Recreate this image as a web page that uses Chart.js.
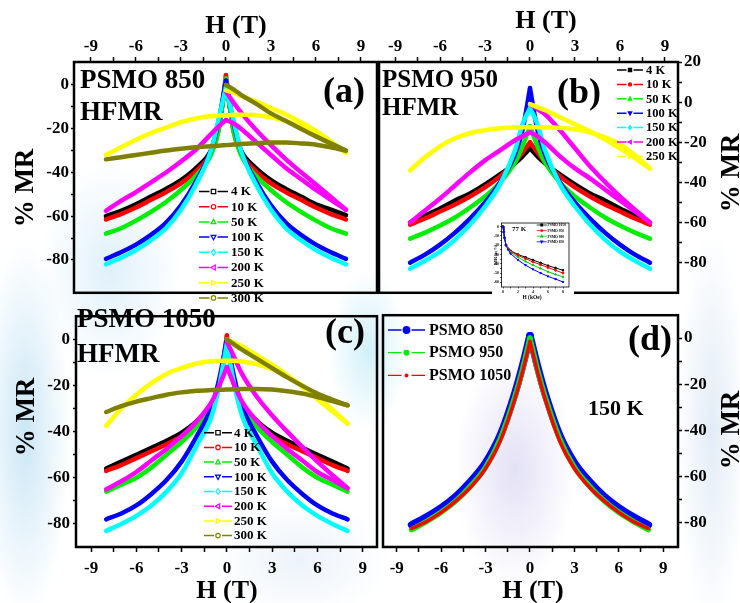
<!DOCTYPE html>
<html>
<head>
<meta charset="utf-8">
<script src="https://cdn.jsdelivr.net/npm/chart.js@4.4.0/dist/chart.umd.min.js"></script>
<style>
html, body { margin: 0; padding: 0; }
body {
  width: 740px; height: 603px; position: relative; overflow: hidden; background: #fff;
  background-image:
    radial-gradient(ellipse 45px 190px at 25px 430px, rgba(160,210,238,0.55), rgba(255,255,255,0)),
    radial-gradient(ellipse 70px 110px at 110px 270px, rgba(185,222,243,0.45), rgba(255,255,255,0)),
    radial-gradient(ellipse 60px 120px at 515px 470px, rgba(200,195,235,0.5), rgba(255,255,255,0)),
    radial-gradient(ellipse 35px 200px at 712px 430px, rgba(190,212,235,0.45), rgba(255,255,255,0)),
    radial-gradient(ellipse 40px 80px at 368px 350px, rgba(170,228,242,0.55), rgba(255,255,255,0)),
    radial-gradient(ellipse 90px 60px at 300px 560px, rgba(200,220,240,0.35), rgba(255,255,255,0));
}
canvas { position: absolute; }
</style>
</head>
<body>
<canvas id="chartA" width="380" height="305" style="left:0px;top:0px"></canvas>
<canvas id="chartB" width="364" height="305" style="left:376px;top:0px"></canvas>
<canvas id="chartC" width="380" height="300" style="left:0px;top:303px"></canvas>
<canvas id="chartD" width="364" height="300" style="left:376px;top:303px"></canvas>
<canvas id="inset" width="82" height="84" style="left:492px;top:218px"></canvas>
<script>
// field grid (T) and return-branch grid
const H  = [-8, -7, -6, -5, -4, -3, -2, -1, -0.5, 0, 0.5, 1, 2, 3, 4, 5, 6, 7, 8];
const Hr = [0, 0.5, 1, 2, 3, 4, 6, 8];

const temps = ['4 K', '10 K', '50 K', '100 K', '150 K', '200 K', '250 K', '300 K'];
const tColors = ['#000000', '#ff0000', '#00ee00', '#0000ff', '#00ffff', '#ff00ff', '#ffff00', '#808000'];

// (a) PSMO 850
const a4    = [-60, -57.5, -54.5, -51, -47.5, -43.5, -38, -30, -20, 2, -20, -30, -38, -43.5, -47.5, -51, -54.5, -57, -59.5];
const a10   = [-61.5, -59, -56, -52.5, -49, -45, -39.5, -31, -21, 4.5, -21, -31, -39.5, -45, -49, -52.5, -56, -59, -61.5];
const a50   = [-68, -65.5, -62, -58, -53.5, -48, -41.5, -32, -21, 3, -21, -32, -41.5, -48, -53.5, -58, -62, -65.5, -68];
const a100  = [-79.5, -76.5, -73, -68.5, -63, -55, -44, -30, -17, 2, -17, -30, -44, -55, -63, -68.5, -73, -76.5, -79.5];
const a150  = [-82, -79, -75.5, -71, -65.5, -57, -45.5, -30, -16, -1, -16, -30, -45.5, -57, -65.5, -71, -75.5, -79, -82];
const a200  = [-57.5, -53, -49, -44.5, -40, -35, -29.5, -22.5, -19, -16, -17.5, -20, -26, -32, -38, -43, -48, -52.5, -57];
const a200r = [-3, -8, -12.5, -20.5, -27.5, -34, -45.5, -57];
const a250  = [-32, -28.5, -25, -22, -19.5, -17, -15.3, -14.2, -14, -13.8, -13.7, -13.6, -13.8, -14.8, -16.5, -19, -22, -26, -31];
const a250r = [-2.5, -3.5, -5, -7.5, -10.5, -13.5, -21, -31];
const a300  = [-34, -33, -32, -31, -30, -29.2, -28.5, -28, -27.8, -27.5, -27.2, -27, -26.6, -26.3, -26.3, -26.7, -27.3, -28.5, -30];
const a300r = [0, -2, -4.5, -8.5, -13, -16.5, -23.5, -30];

// (b) PSMO 950
const b4    = [-60, -56.5, -53, -49, -45.5, -41, -36, -30.5, -27, -23, -27, -30.5, -36, -41, -45.5, -49, -53, -56.5, -60];
const b10   = [-61, -58, -54.5, -51, -47, -42.5, -37, -30, -25, -20, -25, -30, -37, -42.5, -47, -51, -54.5, -58, -61];
const b50   = [-68, -65, -61.5, -57.5, -52.5, -47, -40, -30, -22, -12, -22, -30, -40, -47, -52.5, -57.5, -61.5, -65, -68];
const b100  = [-80, -76, -71, -65, -58, -50, -40, -26, -14, 7, -14, -26, -40, -50, -58, -65, -71, -76, -80];
const b150  = [-83, -79, -74.5, -68.5, -61, -52, -41, -24, -11, -3, -11, -24, -41, -52, -61, -68.5, -74.5, -79, -83];
const b200  = [-60, -54, -48, -41.5, -35, -29, -24, -19, -17, -15, -17, -20, -27, -33, -38, -43.5, -49, -54.5, -60];
const b200r = [-1, -3.5, -6, -14, -23, -32, -47, -60];
const b250  = [-34, -27.5, -22, -18, -15.5, -14, -13, -12.6, -12.5, -12.5, -12.5, -12.6, -12.8, -13.5, -15, -17.5, -21, -26.5, -33];
const b250r = [-1, -2.5, -4, -7.5, -11, -14.5, -23, -33];

// (c) PSMO 1050
const c4    = [-56, -53, -50, -47, -44, -40.5, -35.5, -28, -20, 0, -20, -28, -35.5, -40.5, -44, -47, -50, -53, -56];
const c10   = [-57, -54.5, -51.5, -48.5, -45.5, -42, -37, -29, -20, 1.6, -20, -29, -37, -42, -45.5, -48.5, -51.5, -54.5, -57];
const c50   = [-66, -63, -60, -55.5, -50, -44.5, -38, -29, -19, 0, -19, -29, -38, -44.5, -50, -55.5, -60, -63, -66];
const c100  = [-78, -75.5, -72, -67, -61, -53, -42, -29, -17, 0, -17, -29, -42, -53, -61, -67, -72, -75.5, -78];
const c150  = [-83, -80, -76.5, -72, -66, -58, -46, -33, -20, -2, -20, -33, -46, -58, -66, -72, -76.5, -80, -83];
const c200  = [-65, -61.5, -57.5, -52.5, -47.5, -42, -35.5, -27, -20, -12, -20, -27, -35.5, -42, -47.5, -52.5, -57.5, -61, -64.5];
const c200r = [-1, -8, -15, -25, -33, -40, -53, -64.5];
const c250  = [-37.5, -30, -24, -19, -15, -12.5, -10.5, -9.5, -9.3, -9.3, -9.3, -9.6, -10.8, -13, -16, -20, -25, -30.5, -36.5];
const c250r = [0, -1.5, -3, -7, -11, -15.5, -26, -36.5];
const c300  = [-31.5, -29, -27, -25.5, -24, -23, -22.3, -22, -21.9, -21.8, -21.7, -21.5, -21.5, -21.8, -22.5, -23.5, -25, -26.8, -28.6];
const c300r = [0, -2.3, -4.5, -8.5, -12.5, -16.5, -23.5, -28.6];

// (d) 150 K comparison
const samples = ['PSMO 850', 'PSMO 950', 'PSMO 1050'];
const sColors = ['#0000ff', '#00ee00', '#ff0000'];
const d850  = [-81, -77.5, -73.5, -68.5, -62, -54, -42, -23.5, -12, 1, -12, -23.5, -42, -54, -62, -68.5, -73.5, -77.5, -81];
const d950  = [-83, -79.5, -75.5, -70.5, -64, -56, -43.5, -25, -13.5, 0, -13.5, -25, -43.5, -56, -64, -70.5, -75.5, -79.5, -83];
const d1050 = [-82.5, -79.5, -75.5, -70.5, -64.5, -56.5, -44.5, -26, -14.5, -1.5, -14.5, -26, -44.5, -56.5, -64.5, -70.5, -75.5, -79.5, -82.5];

// inset, 77 K, H in kOe
const insH = [0, 0.1, 0.2, 0.4, 0.7, 1, 2, 3, 4, 5, 6, 7, 8];
const insNames = ['PSMO 1050', 'PSMO 950', 'PSMO 900', 'PSMO 850'];
const insColors = ['#000000', '#ff0000', '#00cc00', '#0000ff'];
const ins1050 = [0, -6, -12, -20, -24, -26, -30, -33, -36, -39, -42, -44.5, -47];
const ins950  = [0, -6, -12, -20, -24, -26.5, -31, -34.5, -38, -41, -44, -47, -50];
const ins900  = [0, -6, -12, -20, -24.5, -27.5, -33, -37.5, -41.5, -45, -48.5, -51.5, -54];
const ins850  = [0, -6, -12, -20, -25, -29, -36, -41.5, -46, -50, -53.5, -56.5, -59.5];

const xTicks = [-9, -6, -3, 0, 3, 6, 9];
const yTicks = [0, -20, -40, -60, -80];
const yTicksB = [20, 0, -20, -40, -60, -80];
const insXTicks = [0, 2, 4, 6, 8];
const insYTicks = [0, -10, -20, -30, -40, -50, -60];

const FONT = '"Liberation Serif", "Times New Roman", serif';
Chart.defaults.font.family = FONT;
Chart.defaults.color = '#000';

function series(xs, ys, color, w) {
  return {
    data: xs.map((x, i) => ({ x: x, y: ys[i] })),
    borderColor: color, borderWidth: w, pointRadius: 0, fill: false,
    cubicInterpolationMode: 'monotone', borderCapStyle: 'round', borderJoinStyle: 'round'
  };
}
// cusp-shaped curve: split at H = 0 so the tip stays sharp
function spike(ys, color, w) {
  const k = H.indexOf(0);
  return [series(H.slice(0, k + 1), ys.slice(0, k + 1), color, w),
          series(H.slice(k), ys.slice(k), color, w)];
}
// later entries on top
function stack(list) {
  list.forEach((d, i) => { d.order = list.length - i; });
  return list;
}

function withMinor(t) {
  const out = t.slice();
  for (let i = 1; i < t.length; i++) out.push((t[i] + t[i - 1]) / 2);
  return out;
}

function axis(pos, min, max, ticks, size, opt) {
  opt = opt || {};
  const horiz = pos === 'top' || pos === 'bottom';
  return {
    type: 'linear', position: pos, min: min, max: max,
    afterBuildTicks: s => { s.ticks = withMinor(ticks).sort((p, q) => p - q).map(v => ({ value: v })); },
    afterFit: s => { if (horiz) s.height = size; else s.width = size; },
    ticks: {
      color: '#000', autoSkip: false, maxRotation: 0, padding: opt.pad != null ? opt.pad : 3,
      font: { family: FONT, size: opt.fs || 17, weight: 'bold' },
      callback: v => ticks.includes(v) ? String(v) : ''
    },
    grid: { drawOnChartArea: false, drawTicks: true, tickLength: opt.tl || 5, tickColor: '#000', tickWidth: opt.tw || 1.5 },
    border: { display: false }
  };
}

function drawMarker(ctx, type, x, y, r, color, filled) {
  ctx.beginPath();
  if (type === 'square') ctx.rect(x - r, y - r, 2 * r, 2 * r);
  else if (type === 'circle') ctx.arc(x, y, r, 0, Math.PI * 2);
  else if (type === 'up') { ctx.moveTo(x, y - r * 1.2); ctx.lineTo(x + r * 1.1, y + r * 0.8); ctx.lineTo(x - r * 1.1, y + r * 0.8); ctx.closePath(); }
  else if (type === 'down') { ctx.moveTo(x, y + r * 1.2); ctx.lineTo(x + r * 1.1, y - r * 0.8); ctx.lineTo(x - r * 1.1, y - r * 0.8); ctx.closePath(); }
  else if (type === 'left') { ctx.moveTo(x - r * 1.2, y); ctx.lineTo(x + r * 0.8, y - r * 1.1); ctx.lineTo(x + r * 0.8, y + r * 1.1); ctx.closePath(); }
  else if (type === 'right') { ctx.moveTo(x + r * 1.2, y); ctx.lineTo(x - r * 0.8, y - r * 1.1); ctx.lineTo(x - r * 0.8, y + r * 1.1); ctx.closePath(); }
  else if (type === 'diamond') { ctx.moveTo(x, y - r * 1.3); ctx.lineTo(x + r, y); ctx.lineTo(x, y + r * 1.3); ctx.lineTo(x - r, y); ctx.closePath(); }
  ctx.fillStyle = filled ? color : '#fff';
  ctx.fill();
  ctx.lineWidth = 1.2; ctx.strokeStyle = color;
  ctx.stroke();
}

const panelDecor = {
  id: 'panelDecor',
  beforeDraw(chart, args, opts) {
    if (opts.bg) {
      const c = chart.ctx;
      c.save(); c.fillStyle = opts.bg; c.fillRect(0, 0, chart.width, chart.height); c.restore();
    }
  },
  afterDraw(chart, args, opts) {
    const ctx = chart.ctx, a = chart.chartArea;
    ctx.save();
    ctx.strokeStyle = '#000';
    ctx.lineWidth = opts.boxWidth || 2.5;
    ctx.strokeRect(a.left, a.top, a.right - a.left, a.bottom - a.top);
    (opts.texts || []).forEach(t => {
      ctx.save();
      ctx.font = t.font; ctx.fillStyle = '#000';
      ctx.textAlign = t.align || 'left'; ctx.textBaseline = 'alphabetic';
      ctx.translate(t.x, t.y);
      if (t.rot) ctx.rotate(t.rot);
      ctx.fillText(t.text, 0, 0);
      ctx.restore();
    });
    const lg = opts.legend;
    if (lg) {
      lg.labels.forEach((lab, i) => {
        const y = lg.y + i * lg.dy, mx = (lg.x0 + lg.x1) / 2;
        ctx.strokeStyle = lg.colors[i]; ctx.lineWidth = lg.lw;
        ctx.beginPath();
        ctx.moveTo(lg.x0, y); ctx.lineTo(mx - lg.gap, y);
        ctx.moveTo(mx + lg.gap, y); ctx.lineTo(lg.x1, y);
        ctx.stroke();
        const ms = Array.isArray(lg.ms) ? lg.ms[i] : lg.ms;
        drawMarker(ctx, lg.markers[i], mx, y, ms, lg.colors[i], lg.filled);
        ctx.fillStyle = '#000'; ctx.font = lg.font; ctx.textBaseline = 'middle'; ctx.textAlign = 'left';
        ctx.fillText(lab, lg.tx, y + 0.5);
      });
    }
    ctx.restore();
  }
};

function makePanel(id, datasets, cfg) {
  return new Chart(document.getElementById(id), {
    type: 'line',
    data: { datasets: datasets },
    options: {
      responsive: false, animation: false, events: [],
      layout: { padding: cfg.pad },
      plugins: { legend: { display: false }, tooltip: { enabled: false }, panelDecor: cfg.decor },
      scales: { x: cfg.x, y: cfg.y }
    },
    plugins: [panelDecor]
  });
}

const openMarks = ['square', 'circle', 'up', 'down', 'diamond', 'left', 'right', 'circle'];
const LW = 4.5;
const bold = s => 'bold ' + s + 'px ' + FONT;
const ROT = -Math.PI / 2;

// ---- (a) ----
makePanel('chartA', stack([
  ...spike(a4, tColors[0], LW), ...spike(a10, tColors[1], LW), ...spike(a50, tColors[2], LW),
  ...spike(a100, tColors[3], LW), ...spike(a150, tColors[4], LW),
  ...spike(a200, tColors[5], LW), series(Hr, a200r, tColors[5], LW),
  series(H, a250, tColors[6], LW), series(Hr, a250r, tColors[6], LW),
  series(H, a300, tColors[7], LW), series(Hr, a300r, tColors[7], LW)
]), {
  pad: { left: 0, right: 3, top: 0, bottom: 3 },
  x: axis('top', -10.13, 10.07, xTicks, 62, { pad: 0 }),
  y: axis('left', -95, 10.5, yTicks, 74, { tl: 3, pad: 2 }),
  decor: {
    texts: [
      { text: 'H (T)', x: 236, y: 33, font: bold(26), align: 'center' },
      { text: '% MR', x: 33, y: 188, font: bold(27), align: 'center', rot: ROT },
      { text: 'PSMO 850', x: 80, y: 88, font: bold(27) },
      { text: 'HFMR', x: 80, y: 120, font: bold(27) },
      { text: '(a)', x: 323, y: 102, font: bold(36) }
    ],
    legend: { labels: temps, colors: tColors, markers: openMarks, filled: false,
      x0: 199, x1: 228, tx: 231, y: 191.5, dy: 15.2, lw: 1.5, gap: 4, ms: 2.2, font: bold(13) }
  }
});

// ---- (b) ----
makePanel('chartB', stack([
  ...spike(b4, tColors[0], LW), ...spike(b10, tColors[1], LW), ...spike(b50, tColors[2], LW),
  ...spike(b100, tColors[3], LW), ...spike(b150, tColors[4], LW),
  ...spike(b200, tColors[5], LW), series(Hr, b200r, tColors[5], LW),
  series(H, b250, tColors[6], LW), series(Hr, b250r, tColors[6], LW)
]), {
  pad: { left: 3, right: 0, top: 0, bottom: 2 },
  x: axis('top', -10.07, 9.87, xTicks, 62, { pad: 0 }),
  y: axis('right', -95, 20, yTicksB, 62, { tl: 4, pad: 2 }),
  decor: {
    texts: [
      { text: 'H (T)', x: 170, y: 28, font: bold(26), align: 'center' },
      { text: '% MR', x: 363, y: 173, font: bold(27), align: 'center', rot: ROT },
      { text: 'PSMO 950', x: 6, y: 87, font: bold(25) },
      { text: 'HFMR', x: 6, y: 115, font: bold(25) },
      { text: '(b)', x: 181, y: 103, font: bold(36) }
    ],
    legend: { labels: temps.slice(0, 7), colors: tColors.slice(0, 7), markers: openMarks.slice(0, 7), filled: true,
      x0: 241, x1: 267, tx: 270, y: 70, dy: 14.4, lw: 1.5, gap: 3.5, ms: 1.6, font: bold(12.5) }
  }
});

// ---- (c) ----
makePanel('chartC', stack([
  ...spike(c4, tColors[0], LW), ...spike(c10, tColors[1], LW), ...spike(c50, tColors[2], LW),
  ...spike(c100, tColors[3], LW), ...spike(c150, tColors[4], LW),
  ...spike(c200, tColors[5], LW), series(Hr, c200r, tColors[5], LW),
  series(H, c250, tColors[6], LW), series(Hr, c250r, tColors[6], LW),
  series(H, c300, tColors[7], LW), series(Hr, c300r, tColors[7], LW)
]), {
  pad: { left: 0, right: 3, top: 2, bottom: 0 },
  x: axis('bottom', -10, 9.95, xTicks, 56, { pad: 6 }),
  y: axis('left', -90, 10, yTicks, 76, { tl: 3, pad: 3 }),
  decor: {
    texts: [
      { text: 'H (T)', x: 227, y: 295, font: bold(26), align: 'center' },
      { text: '% MR', x: 34, y: 114, font: bold(27), align: 'center', rot: ROT },
      { text: 'PSMO 1050', x: 77, y: 24, font: bold(27) },
      { text: 'HFMR', x: 77, y: 59, font: bold(27) },
      { text: '(c)', x: 325, y: 40, font: bold(36) }
    ],
    legend: { labels: temps, colors: tColors, markers: openMarks, filled: false,
      x0: 204, x1: 232, tx: 234, y: 129.7, dy: 14.7, lw: 1.5, gap: 4, ms: 2.2, font: bold(13) }
  }
});

// ---- (d) ----
makePanel('chartD', stack([
  ...spike(d850, sColors[0], 7.5), ...spike(d950, sColors[1], 5.5), ...spike(d1050, sColors[2], 3.5)
]), {
  pad: { left: 7, right: 0, top: 2, bottom: 0 },
  x: axis('bottom', -9.93, 10, xTicks, 56, { pad: 6 }),
  y: axis('right', -90.5, 9.9, yTicks, 62, { tl: 4, pad: 2 }),
  decor: {
    texts: [
      { text: 'H (T)', x: 157, y: 295, font: bold(26), align: 'center' },
      { text: '% MR', x: 363, y: 127, font: bold(27), align: 'center', rot: ROT },
      { text: '(d)', x: 252, y: 47, font: bold(36) },
      { text: '150 K', x: 212, y: 112, font: bold(22) }
    ],
    legend: { labels: samples, colors: sColors, markers: ['circle', 'circle', 'circle'], filled: true,
      x0: 12, x1: 49, tx: 53, y: 27, dy: 22.7, lw: 1.3, gap: 5, ms: [3.3, 2.4, 1.4], font: bold(16) }
  }
});

// ---- inset (77 K) ----
const insMarks = ['square', 'circle', 'up', 'down'];
function insSeries(ys, i) {
  return {
    data: insH.map((x, k) => ({ x: x, y: ys[k] })),
    borderColor: insColors[i], backgroundColor: insColors[i], borderWidth: 1,
    pointRadius: 1, pointStyle: ['rect', 'circle', 'triangle', 'triangle'][i],
    pointRotation: i === 3 ? 180 : 0, fill: false, tension: 0
  };
}
makePanel('inset', stack([insSeries(ins1050, 0), insSeries(ins950, 1), insSeries(ins900, 2), insSeries(ins850, 3)]), {
  pad: { left: 0, right: 2, top: 4, bottom: 0 },
  x: axis('bottom', -0.2, 8.8, insXTicks, 15, { fs: 4, tl: 1.5, tw: 0.6, pad: 1 }),
  y: axis('left', -65, 3.9, insYTicks, 9.5, { fs: 4, tl: 1.5, tw: 0.6, pad: 1 }),
  decor: {
    bg: '#ffffff', boxWidth: 0.8,
    texts: [
      { text: '77 K', x: 20, y: 13, font: bold(7) },
      { text: 'MR in %', x: 5, y: 37, font: bold(5), align: 'center', rot: ROT },
      { text: 'H (kOe)', x: 40, y: 81, font: bold(5.5), align: 'center' }
    ],
    legend: { labels: insNames, colors: insColors, markers: insMarks, filled: true,
      x0: 44.7, x1: 54.7, tx: 55.5, y: 7, dy: 5.6, lw: 0.8, gap: 0.8, ms: 0.8, font: bold(3.6) }
  }
});
</script>
</body>
</html>
